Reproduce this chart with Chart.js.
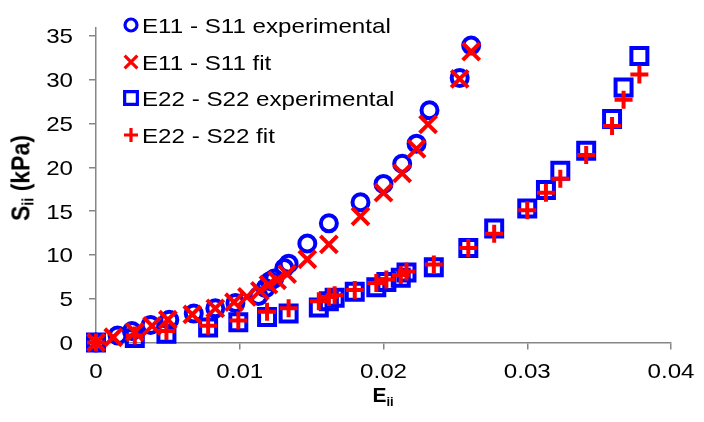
<!DOCTYPE html>
<html>
<head>
<meta charset="utf-8">
<script src="https://cdn.jsdelivr.net/npm/chart.js@4.4.1/dist/chart.umd.min.js"></script>
<style>
  body { margin: 0; background: #fff; }
  #wrap { position: relative; width: 704px; height: 422px; font-family: "Liberation Sans", Arial, sans-serif; }
  .axis-title { position: absolute; font-weight: bold; color: #000; white-space: nowrap; line-height: 1; }
  .axis-title sub { font-size: 0.62em; vertical-align: -0.25em; }
  #ytitle { font-size: 23px; left: 22px; top: 178px; transform: translate(-50%, -50%) rotate(-90deg) scaleY(1.15); }
  #xtitle { font-size: 21px; left: 383px; top: 396px; transform: translate(-50%, -50%); }
</style>
</head>
<body>
<div id="wrap">
  <canvas id="strainChart" width="704" height="422"></canvas>
  <div class="axis-title" id="ytitle">S<sub>ii</sub> (kPa)</div>
  <div class="axis-title" id="xtitle">E<sub>ii</sub></div>
</div>
<script>
// === Màu và dữ liệu ===
const blueColor = '#0000FF';
const redColor = '#FF0000';
const axisColor = '#868686';
const textFont = '21px "Liberation Sans", Arial, sans-serif';
const stretchX = 1.15; // chữ trong ảnh gốc bị kéo giãn ngang

// E11 - S11 experimental
const s11ExpStrain = [0, 0.0015, 0.0025, 0.0038, 0.0051, 0.0068, 0.0083, 0.0097, 0.0113, 0.0118, 0.0121, 0.0124, 0.0131, 0.0134, 0.0147, 0.0162, 0.0184, 0.0200, 0.0213, 0.0223, 0.0232, 0.0253, 0.0261];
const s11ExpStress = [0, 0.8, 1.3, 2.0, 2.6, 3.3, 3.9, 4.5, 5.3, 6.2, 7.0, 7.3, 8.5, 9.0, 11.3, 13.6, 16.0, 18.1, 20.4, 22.7, 26.5, 30.2, 33.9];

// E11 - S11 fit
const s11FitStrain = [0, 0.0012, 0.0027, 0.0039, 0.0050, 0.0067, 0.0083, 0.0096, 0.0105, 0.0114, 0.0120, 0.0126, 0.0133, 0.0147, 0.0162, 0.0184, 0.0200, 0.0213, 0.0223, 0.0231, 0.0253, 0.0261];
const s11FitStress = [0, 0.6, 1.2, 1.9, 2.6, 3.2, 3.9, 4.6, 5.2, 5.9, 6.6, 7.1, 7.8, 9.5, 11.2, 14.4, 17.1, 19.3, 22.1, 24.9, 30.1, 33.2];

// E22 - S22 experimental
const s22ExpStrain = [0, 0.0027, 0.0049, 0.0078, 0.0099, 0.0119, 0.0134, 0.0155, 0.0162, 0.0166, 0.0180, 0.0195, 0.0202, 0.0212, 0.0216, 0.0235, 0.0259, 0.0277, 0.0300, 0.0313, 0.0323, 0.0341, 0.0359, 0.0367, 0.0378];
const s22ExpStress = [0, 0.5, 1.0, 1.7, 2.3, 2.9, 3.3, 4.0, 4.7, 5.1, 5.8, 6.3, 6.9, 7.4, 8.0, 8.6, 10.8, 13.0, 15.3, 17.4, 19.6, 21.9, 25.5, 29.1, 32.7];

// E22 - S22 fit
const s22FitStrain = [0, 0.0027, 0.0049, 0.0078, 0.0099, 0.0119, 0.0134, 0.0155, 0.0162, 0.0166, 0.0180, 0.0195, 0.0202, 0.0212, 0.0216, 0.0235, 0.0259, 0.0277, 0.0300, 0.0313, 0.0323, 0.0341, 0.0359, 0.0367, 0.0378];
const s22FitStress = [0, 0.8, 1.3, 1.9, 2.5, 3.5, 3.9, 4.7, 5.2, 5.4, 6.0, 6.8, 7.2, 7.7, 8.1, 8.9, 10.8, 12.4, 15.1, 17.1, 18.7, 21.4, 24.7, 27.7, 30.6];

const xTicks = [0, 0.01, 0.02, 0.03, 0.04];
const xTickLabels = ['0', '0.01', '0.02', '0.03', '0.04'];
const yTicks = [0, 5, 10, 15, 20, 25, 30, 35];
const yTickLabels = ['0', '5', '10', '15', '20', '25', '30', '35'];

const toPoints = (xs, ys) => xs.map((x, i) => ({ x: x, y: ys[i] }));

function stretchedText(ctx, text, x, y, align) {
    ctx.save();
    ctx.translate(x, y);
    ctx.scale(stretchX, 1);
    ctx.textAlign = align;
    ctx.fillText(text, 0, 0);
    ctx.restore();
}

// === Nhãn trục (vẽ lại để kéo giãn ngang như ảnh gốc) ===
const tickText = {
    id: 'tickText',
    afterDraw(chart) {
        const ctx = chart.ctx;
        const xs = chart.scales.x, ys = chart.scales.y;
        ctx.save();
        ctx.font = textFont;
        ctx.fillStyle = '#000';
        ctx.textBaseline = 'alphabetic';
        xTicks.forEach((v, i) => stretchedText(ctx, xTickLabels[i], xs.getPixelForValue(v), 378, 'center'));
        yTicks.forEach((v, i) => stretchedText(ctx, yTickLabels[i], 73, ys.getPixelForValue(v) + 7.5, 'right'));
        ctx.restore();
    }
};

// === Legend vẽ bên trong vùng biểu đồ ===
const legendRows = [
    { text: 'E11 - S11 experimental', style: 'circle', color: blueColor, r: 6, y: 25 },
    { text: 'E11 - S11 fit', style: 'crossRot', color: redColor, r: 9, y: 62 },
    { text: 'E22 - S22 experimental', style: 'rect', color: blueColor, r: 9, y: 98 },
    { text: 'E22 - S22 fit', style: 'cross', color: redColor, r: 7, y: 135 },
];
const insideLegend = {
    id: 'insideLegend',
    afterDraw(chart) {
        const ctx = chart.ctx;
        ctx.save();
        ctx.font = textFont;
        ctx.textBaseline = 'alphabetic';
        legendRows.forEach(row => {
            ctx.strokeStyle = row.color;
            ctx.fillStyle = 'rgba(0,0,0,0)';
            ctx.lineWidth = 3.2;
            Chart.helpers.drawPoint(ctx, { pointStyle: row.style, radius: row.r, rotation: 0, borderWidth: 3.2 }, 131, row.y);
            ctx.fillStyle = '#000';
            stretchedText(ctx, row.text, 142, row.y + 7.5, 'left');
        });
        ctx.restore();
    }
};

function makeSet(label, xs, ys, style, color, radius, order) {
    return {
        label: label,
        data: toPoints(xs, ys),
        pointStyle: style,
        pointRadius: radius,
        pointHoverRadius: radius,
        pointBorderWidth: 4,
        pointHoverBorderWidth: 4,
        borderColor: color,
        backgroundColor: 'rgba(0,0,0,0)',
        showLine: false,
        clip: false,
        order: order
    };
}

new Chart(document.getElementById('strainChart'), {
    type: 'scatter',
    data: {
        datasets: [
            makeSet('E11 - S11 experimental', s11ExpStrain, s11ExpStress, 'circle', blueColor, 8, 3),
            makeSet('E11 - S11 fit', s11FitStrain, s11FitStress, 'crossRot', redColor, 12, 1),
            makeSet('E22 - S22 experimental', s22ExpStrain, s22ExpStress, 'rect', blueColor, 11.3, 2),
            makeSet('E22 - S22 fit', s22FitStrain, s22FitStress, 'cross', redColor, 9, 0),
        ]
    },
    options: {
        responsive: false,
        animation: false,
        layout: { padding: { top: 12, right: 33, left: 0, bottom: 0 } },
        plugins: { legend: { display: false }, tooltip: { enabled: false } },
        scales: {
            x: {
                type: 'linear', min: 0, max: 0.04,
                afterBuildTicks: s => { s.ticks = xTicks.map(v => ({ value: v })); },
                afterFit: s => { s.height = 79.5; },
                border: { color: axisColor, width: 1.5 },
                grid: { drawOnChartArea: false, drawTicks: true, tickLength: 7, color: axisColor, lineWidth: 1.5 },
                ticks: { color: 'rgba(0,0,0,0)', padding: 9, maxRotation: 0, font: { size: 20 } }
            },
            y: {
                type: 'linear', min: 0, max: 35.9,
                afterBuildTicks: s => { s.ticks = yTicks.map(v => ({ value: v })); },
                afterFit: s => { s.width = 96; },
                border: { color: axisColor, width: 1.5 },
                grid: { drawOnChartArea: false, drawTicks: true, tickLength: 7, color: axisColor, lineWidth: 1.5 },
                ticks: { color: 'rgba(0,0,0,0)', padding: 16, font: { size: 20 } }
            }
        }
    },
    plugins: [tickText, insideLegend]
});
</script>
</body>
</html>
